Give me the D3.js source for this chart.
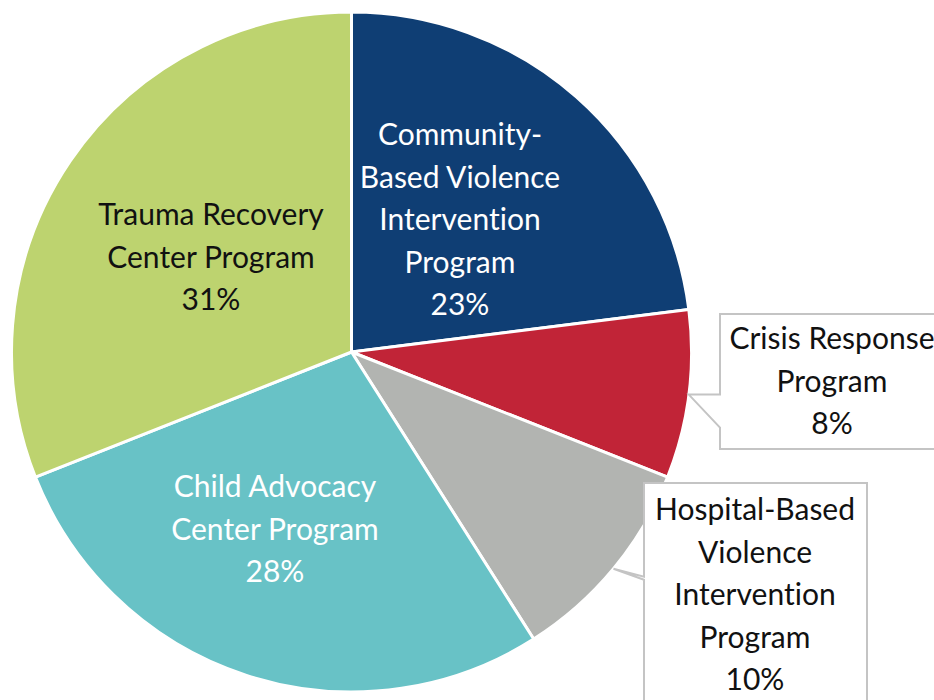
<!DOCTYPE html>
<html>
<head>
<meta charset="utf-8">
<script src="https://cdn.jsdelivr.net/npm/d3@7"></script>
<style>
  html, body { margin: 0; padding: 0; background: #fff; }
  svg { display: block; }
  text { font-variant-ligatures: none; font-feature-settings: "liga" 0, "clig" 0; }
</style>
</head>
<body>
<svg id="chart" width="934" height="700"></svg>
<script>
// Share of funding by program type
const categories = [
  "Community-Based Violence Intervention Program",
  "Crisis Response Program",
  "Hospital-Based Violence Intervention Program",
  "Child Advocacy Center Program",
  "Trauma Recovery Center Program"
];
const shares = [23, 8, 10, 28, 31];
const labelLines = [
  ["Community-", "Based Violence", "Intervention", "Program"],
  ["Crisis Response", "Program"],
  ["Hospital-Based", "Violence", "Intervention", "Program"],
  ["Child Advocacy", "Center Program"],
  ["Trauma Recovery", "Center Program"]
];
const colors = ["#0f3e74", "#c12437", "#b2b4b1", "#68c2c6", "#bdd36f"];

const W = 934, H = 700;
const cx = 351.5, cy = 352, R = 340;
const lineH = 42.5;
const font = "Lato, 'Noto Sans', sans-serif";

// Label placement: centre x and first baseline; callouts also carry a box
const labelLayout = [
  { x: 460, y: 145, fill: "#ffffff" },
  { x: 832, y: 349, fill: "#111111", box: { x0: 720, y0: 314, x1: 945, y1: 449, notch: 33, side: "lowerDiag" } },
  { x: 755, y: 520, fill: "#111111", box: { x0: 644, y0: 483, x1: 867, y1: 712, notch: 3, side: "upperDiag" } },
  { x: 275, y: 497, fill: "#ffffff" },
  { x: 211, y: 225, fill: "#111111" }
];

const data = categories.map((c, i) => ({ name: c, value: shares[i], lines: labelLines[i], color: colors[i], layout: labelLayout[i] }));

const svg = d3.select("#chart");
const g = svg.append("g").attr("transform", `translate(${cx},${cy})`);

const pie = d3.pie().value(d => d.value).sort(null).startAngle(0).endAngle(2 * Math.PI);
const arc = d3.arc().innerRadius(0).outerRadius(R);
const rimArc = d3.arc().innerRadius(R).outerRadius(R);
const arcs = pie(data);

g.selectAll("path.slice")
  .data(arcs)
  .join("path")
  .attr("class", "slice")
  .attr("d", arc)
  .attr("fill", d => d.data.color)
  .attr("stroke", "#ffffff")
  .attr("stroke-width", 3)
  .attr("stroke-linejoin", "round");

// Callout boxes with a pointer to the middle of the slice's rim
const callouts = svg.append("g");
arcs.filter(d => d.data.layout.box).forEach(d => {
  const b = d.data.layout.box;
  const [tx, ty] = rimArc.centroid(d);
  const tipX = tx + cx, tipY = ty + cy;
  let p;
  if (b.side === "lowerDiag") {
    // flat top edge of the pointer, slanted lower edge
    p = `M${b.x0},${b.y0} H${b.x1} V${b.y1} H${b.x0} V${tipY + b.notch} L${tipX},${tipY} L${b.x0},${tipY} Z`;
  } else {
    const yA = tipY + 8;
    p = `M${b.x0},${b.y0} H${b.x1} V${b.y1} H${b.x0} V${yA + b.notch} L${tipX},${tipY} L${b.x0},${yA} Z`;
  }
  callouts.append("path")
    .attr("d", p)
    .attr("fill", "#ffffff")
    .attr("stroke", "#c4c4c4")
    .attr("stroke-width", 2)
    .attr("stroke-linejoin", "miter");
});

// Text labels: name lines followed by the percentage
const labels = svg.append("g")
  .attr("font-family", font)
  .attr("font-size", 30)
  .attr("text-anchor", "middle");

data.forEach(d => {
  const L = d.layout;
  const t = labels.append("text").attr("fill", L.fill);
  const lines = d.lines.concat([d.value + "%"]);
  lines.forEach((s, i) => {
    t.append("tspan")
      .attr("x", L.x)
      .attr("y", L.y + i * lineH)
      .text(s);
  });
});
</script>
</body>
</html>
